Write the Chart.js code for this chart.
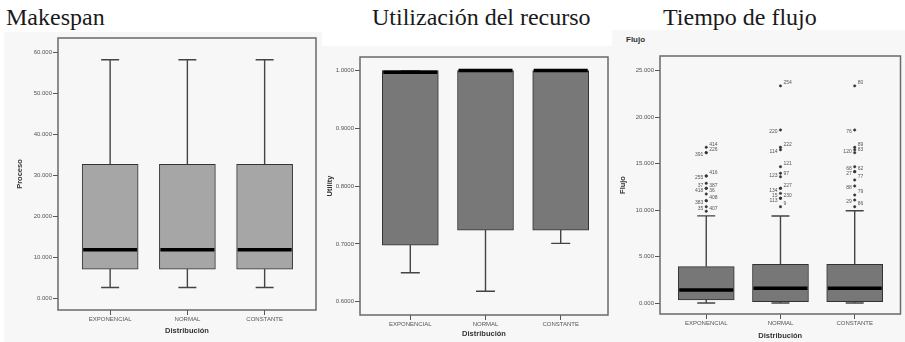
<!DOCTYPE html>
<html>
<head>
<meta charset="utf-8">
<script src="https://cdn.jsdelivr.net/npm/chart.js@4/dist/chart.umd.min.js"></script>
<style>
  html, body { margin: 0; padding: 0; background: #ffffff; }
  #wrap { position: relative; width: 905px; height: 342px; overflow: hidden; }
  .panel { position: absolute; background: #f7f7f7; }
  .ttl { position: absolute; font-family: "Liberation Serif", "Times New Roman", serif; font-size: 24px; line-height: 24px; color: #1a1a1a; white-space: nowrap; }
  .sub { position: absolute; font-family: "Liberation Sans", Arial, sans-serif; font-size: 8px; font-weight: bold; color: #333; }
  canvas { position: absolute; top: 0; }
</style>
</head>
<body>
<div id="wrap">
  <div class="panel" style="left:4px;top:32px;width:318px;height:310px"></div>
  <div class="panel" style="left:322px;top:46px;width:290px;height:296px"></div>
  <div class="panel" style="left:612px;top:30px;width:293px;height:312px"></div>

  <div class="ttl" style="left:6px;top:5px">Makespan</div>
  <div class="ttl" style="left:372px;top:5px">Utilización del recurso</div>
  <div class="ttl" style="left:663px;top:5px">Tiempo de flujo</div>
  <div class="sub" style="left:626px;top:35px">Flujo</div>

  <canvas id="c1" width="322" height="342" style="left:0px"></canvas>
  <canvas id="c2" width="294" height="342" style="left:318px"></canvas>
  <canvas id="c3" width="293" height="342" style="left:612px"></canvas>
</div>

<script>
// Categories shared by the three box plots
const categories = ['EXPONENCIAL', 'NORMAL', 'CONSTANTE'];

// Makespan (Proceso)
const makespanMin    = [2700, 2700, 2700];
const makespanQ1     = [7200, 7200, 7200];
const makespanMedian = [11900, 11900, 11900];
const makespanQ3     = [32800, 32800, 32800];
const makespanMax    = [58300, 58300, 58300];
const makespanTicks  = [0, 10000, 20000, 30000, 40000, 50000, 60000];
const makespanTickLabels = ['0.000', '10.000', '20.000', '30.000', '40.000', '50.000', '60.000'];

// Resource utilization (Utility)
const utilMin    = [0.650, 0.618, 0.701];
const utilQ1     = [0.698, 0.724, 0.724];
const utilMedian = [0.997, 1.000, 1.000];
const utilQ3     = [1.000, 1.000, 1.000];
const utilMax    = [1.000, 1.000, 1.000];
const utilTicks  = [0.6, 0.7, 0.8, 0.9, 1.0];
const utilTickLabels = ['0.6000', '0.7000', '0.8000', '0.9000', '1.0000'];

// Flow time (Flujo)
const flujoMin    = [30, 30, 30];
const flujoQ1     = [360, 170, 170];
const flujoMedian = [1430, 1610, 1610];
const flujoQ3     = [3940, 4190, 4190];
const flujoMax    = [9400, 9390, 9950];
const flujoTicks  = [0, 5000, 10000, 15000, 20000, 25000];
const flujoTickLabels = ['0.000', '5.000', '10.000', '15.000', '20.000', '25.000'];

// Flow time outliers with their case numbers
const flujoOutValues = [
  [16770, 16190, 16190, 13690, 13690, 12900, 12360, 12360, 11750, 11030, 11030, 10380, 9900],
  [23370, 18630, 16770, 16500, 14680, 13980, 13600, 12360, 12360, 11820, 11290, 11290, 10380],
  [23370, 18630, 16770, 16500, 16190, 14680, 14150, 14150, 13260, 12610, 11640, 11100, 10380]
];
const flujoOutIds = [
  ['414', '391', '226', '255', '416', '37', '387', '418', '36', '383', '408', '35', '407'],
  ['254', '220', '222', '114', '121', '123', '97', '134', '227', '15', '230', '113', '9'],
  ['80', '76', '89', '120', '83', '68', '62', '27', '77', '88', '79', '29', '86']
];

const FONT = '"Liberation Sans", Arial, sans-serif';

// Draws frame, whiskers, medians and outlier labels from the chart scales
const boxPlotPlugin = {
  id: 'boxPlot',
  afterDatasetsDraw(chart, args, opts) {
    const { ctx, chartArea: a, scales: { x, y } } = chart;
    const s = opts.stats;
    ctx.save();
    for (let i = 0; i < categories.length; i++) {
      const cx = x.getPixelForValue(i + 1);
      const half = opts.boxWidth / 2;
      const cap = opts.capWidth / 2;
      ctx.strokeStyle = '#444';
      ctx.lineWidth = 1.4;
      ctx.beginPath();
      ctx.moveTo(cx, y.getPixelForValue(s.q3[i]));
      ctx.lineTo(cx, y.getPixelForValue(s.max[i]));
      ctx.moveTo(cx - cap, y.getPixelForValue(s.max[i]));
      ctx.lineTo(cx + cap, y.getPixelForValue(s.max[i]));
      ctx.moveTo(cx, y.getPixelForValue(s.q1[i]));
      ctx.lineTo(cx, y.getPixelForValue(s.min[i]));
      ctx.moveTo(cx - cap, y.getPixelForValue(s.min[i]));
      ctx.lineTo(cx + cap, y.getPixelForValue(s.min[i]));
      ctx.stroke();
      // median
      ctx.strokeStyle = '#000';
      ctx.lineWidth = 3.5;
      ctx.beginPath();
      const my = y.getPixelForValue(s.median[i]);
      ctx.moveTo(cx - half + 1, my);
      ctx.lineTo(cx + half - 1, my);
      ctx.stroke();
      // outlier case numbers
      if (s.outValues) {
        ctx.fillStyle = '#555';
        ctx.font = '5px ' + FONT;
        ctx.textBaseline = 'middle';
        s.outValues[i].forEach((v, k) => {
          const py = y.getPixelForValue(v);
          if (k % 2 === 0) {
            ctx.textAlign = 'left';
            ctx.fillText(s.outIds[i][k], cx + 3, py - 3);
          } else {
            ctx.textAlign = 'right';
            ctx.fillText(s.outIds[i][k], cx - 3, py + 2);
          }
        });
      }
    }
    // plot frame
    ctx.strokeStyle = '#6a6a6a';
    ctx.lineWidth = 1.5;
    ctx.strokeRect(a.left, a.top, a.right - a.left, a.bottom - a.top);
    ctx.restore();
  }
};

function boxChart(id, cfg) {
  const s = cfg.stats;
  const datasets = [{
    type: 'bar',
    data: categories.map((c, i) => ({ x: i + 1, y: [s.q1[i], s.q3[i]] })),
    backgroundColor: cfg.boxColor,
    borderColor: '#333',
    borderWidth: 1,
    borderSkipped: false,
    barThickness: cfg.boxWidth
  }];
  if (s.outValues) {
    const pts = [];
    s.outValues.forEach((arr, i) => arr.forEach(v => pts.push({ x: i + 1, y: v })));
    datasets.push({
      type: 'scatter',
      data: pts,
      pointRadius: 1.2,
      pointBackgroundColor: '#333',
      pointBorderColor: '#333',
      pointBorderWidth: 0.5
    });
  }
  const tickGrid = { display: true, drawOnChartArea: false, drawTicks: true, tickLength: 5, color: '#555', lineWidth: 1, offset: false };
  return new Chart(document.getElementById(id), {
    type: 'bar',
    data: { datasets },
    plugins: [boxPlotPlugin],
    options: {
      responsive: false,
      animation: false,
      devicePixelRatio: 1,
      layout: { padding: cfg.padding },
      plugins: {
        legend: { display: false },
        tooltip: { enabled: false },
        boxPlot: { stats: s, boxWidth: cfg.boxWidth, capWidth: cfg.capWidth }
      },
      scales: {
        x: {
          type: 'linear',
          offset: false,
          min: cfg.xMin, max: cfg.xMax,
          afterBuildTicks: sc => { sc.ticks = categories.map((c, i) => ({ value: i + 1 })); },
          afterFit: sc => { sc.height = cfg.xAxisHeight; },
          grid: tickGrid,
          border: { display: false },
          ticks: {
            autoSkip: false, maxRotation: 0, padding: 1,
            color: '#555', font: { size: 6, family: FONT },
            callback: v => categories[v - 1]
          },
          title: {
            display: true, text: 'Distribución', color: '#333',
            font: { size: 7.5, weight: 'bold', family: FONT },
            padding: { top: 0, bottom: cfg.xTitlePad }
          }
        },
        y: {
          type: 'linear',
          min: cfg.yMin, max: cfg.yMax,
          afterBuildTicks: sc => { sc.ticks = cfg.ticks.map(v => ({ value: v })); },
          afterFit: sc => { sc.width = cfg.yAxisWidth; },
          grid: tickGrid,
          border: { display: false },
          ticks: {
            padding: 1, color: '#555', font: { size: 6, family: FONT },
            callback: v => cfg.tickLabels[cfg.ticks.indexOf(v)]
          },
          title: {
            display: true, text: cfg.yTitle, color: '#333',
            font: { size: 7.5, weight: 'bold', family: FONT },
            padding: { top: cfg.yTitlePad, bottom: 0 }
          }
        }
      }
    }
  });
}

boxChart('c1', {
  stats: { min: makespanMin, q1: makespanQ1, median: makespanMedian, q3: makespanQ3, max: makespanMax },
  ticks: makespanTicks, tickLabels: makespanTickLabels,
  yMin: -2780, yMax: 63600, xMin: 0.325, xMax: 3.665,
  yTitle: 'Proceso', yTitlePad: 15, yAxisWidth: 58,
  xAxisHeight: 32, xTitlePad: 7,
  padding: { left: 0, right: 6, top: 38, bottom: 0 },
  boxColor: '#a6a6a6', boxWidth: 56, capWidth: 18
});

boxChart('c2', {
  stats: { min: utilMin, q1: utilQ1, median: utilMedian, q3: utilQ3, max: utilMax },
  ticks: utilTicks, tickLabels: utilTickLabels,
  yMin: 0.577, yMax: 1.0235, xMin: 0.331, xMax: 3.629,
  yTitle: 'Utility', yTitlePad: 7, yAxisWidth: 42,
  xAxisHeight: 27, xTitlePad: 4,
  padding: { left: 0, right: 4, top: 57, bottom: 0 },
  boxColor: '#787878', boxWidth: 56, capWidth: 19
});

boxChart('c3', {
  stats: { min: flujoMin, q1: flujoQ1, median: flujoMedian, q3: flujoQ3, max: flujoMax,
           outValues: flujoOutValues, outIds: flujoOutIds },
  ticks: flujoTicks, tickLabels: flujoTickLabels,
  yMin: -1150, yMax: 26580, xMin: 0.377, xMax: 3.617,
  yTitle: 'Flujo', yTitlePad: 6, yAxisWidth: 48,
  xAxisHeight: 28, xTitlePad: 2,
  padding: { left: 0, right: 2, top: 56, bottom: 0 },
  boxColor: '#777777', boxWidth: 56, capWidth: 18
});
</script>
</body>
</html>
